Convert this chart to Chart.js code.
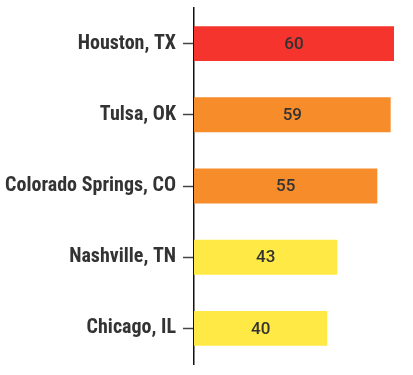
<!DOCTYPE html>
<html>
<head>
<meta charset="utf-8">
<script src="https://cdn.jsdelivr.net/npm/chart.js@4"></script>
<style>
  html, body { margin: 0; padding: 0; background: #fff; }
  #wrap { width: 413px; height: 375px; position: relative; }
</style>
</head>
<body>
<div id="wrap"><canvas id="c"></canvas></div>
<script>
const cities = ["Houston, TX", "Tulsa, OK", "Colorado Springs, CO", "Nashville, TN", "Chicago, IL"];
const values = [60, 59, 55, 43, 40];
const barColors = ["#F5342D", "#F78C2A", "#F78C2A", "#FFEA45", "#FFEA45"];

const valueLabels = {
  id: 'valueLabels',
  afterDatasetsDraw(chart) {
    const ctx = chart.ctx;
    const meta = chart.getDatasetMeta(0);
    ctx.save();
    ctx.font = "500 17px Roboto, 'Noto Sans', sans-serif";
    ctx.fillStyle = "#333333";
    ctx.textAlign = "center";
    ctx.textBaseline = "middle";
    meta.data.forEach((bar, i) => {
      const cx = (bar.x + bar.base) / 2;
      ctx.fillText(String(values[i]), cx, bar.y + 1);
    });
    ctx.restore();
  }
};

new Chart(document.getElementById('c'), {
  type: 'bar',
  data: {
    labels: cities,
    datasets: [{
      data: values,
      backgroundColor: barColors,
      borderWidth: 0,
      barPercentage: 0.49,
      categoryPercentage: 1
    }]
  },
  options: {
    indexAxis: 'y',
    responsive: true,
    maintainAspectRatio: false,
    animation: false,
    layout: { padding: { top: 8, bottom: 11, right: 19, left: 0 } },
    plugins: { legend: { display: false }, tooltip: { enabled: false } },
    scales: {
      x: { display: false, min: 0, max: 60 },
      y: {
        afterFit(scale) { scale.width = 194; scale.paddingTop = 0; scale.paddingBottom = 0; },
        border: { display: true, color: '#111111', width: 1.5 },
        grid: { offset: false, drawOnChartArea: false, drawTicks: true, tickLength: 11, tickColor: '#444444', tickWidth: 1.5 },
        ticks: {
          padding: 7,
          color: '#333333',
          font: { family: "'Roboto Condensed', 'Liberation Sans Narrow', 'DejaVu Sans Condensed', 'Arial Narrow', Roboto, sans-serif", weight: 'bold', size: 20 }
        }
      }
    }
  },
  plugins: [valueLabels]
});
</script>
</body>
</html>
